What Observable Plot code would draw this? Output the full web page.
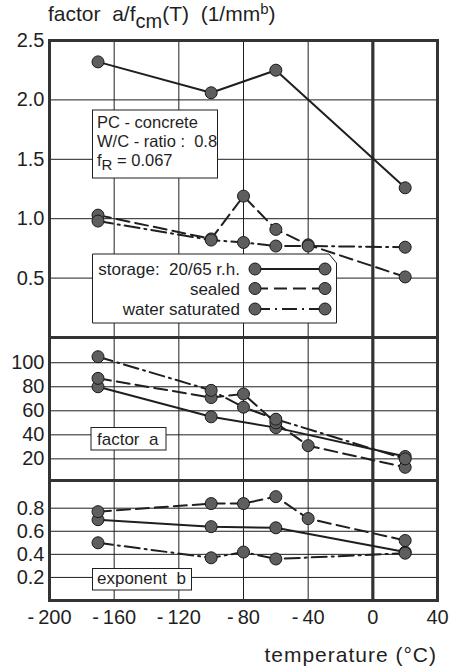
<!DOCTYPE html>
<html><head><meta charset="utf-8">
<script src="https://cdn.jsdelivr.net/npm/d3@7"></script>
<script src="https://cdn.jsdelivr.net/npm/@observablehq/plot@0.6"></script>
<style>
body{margin:0;background:#fff;}
#chart{position:relative;width:451px;height:668px;font-family:"Liberation Sans",Arial,sans-serif;color:#1a1a1a;}
#chart svg{position:absolute;left:0;overflow:visible;}
</style></head><body><div id="chart"></div>
<script>
// ---- data ----
const temperatures = [-170, -100, -80, -60, -40, 20];
const seriesNames = ["storage: 20/65 r.h.", "sealed", "water saturated"];
// factor a / fcm(T)
const ratioStorage = [2.32, 2.06, null, 2.25, null, 1.26];
const ratioSealed  = [1.03, 0.83, 1.19, 0.91, 0.78, 0.51];
const ratioWater   = [0.98, 0.82, 0.80, 0.77, 0.77, 0.76];
// factor a
const aStorage = [80, 55, null, 46, null, 22];
const aSealed  = [87, 71, 74, 50, 31, 13];
const aWater   = [105, 77, 63, 53, null, 20];
// exponent b
const bStorage = [0.70, 0.64, null, 0.63, null, 0.42];
const bSealed  = [0.77, 0.84, 0.84, 0.90, 0.71, 0.52];
const bWater   = [0.50, 0.37, 0.42, 0.36, null, 0.41];
// ticks
const xTicks = [-200, -160, -120, -80, -40, 0, 40];
const ratioTicks = [0.5, 1.0, 1.5, 2.0, 2.5];
const aTicks = [20, 40, 60, 80, 100];
const bTicks = [0.2, 0.4, 0.6, 0.8];
const zeroLine = [0];

const dashes = [null, "13,6", "15,5,2,5"];
const INK = "#1f1f1f";
const FONT = '"Liberation Sans", Arial, sans-serif';

function rows(values, name) {
  return temperatures.map((t, i) => ({t, v: values[i], s: name})).filter(d => d.v != null);
}

const chart = document.getElementById("chart");

function panel({series, domain, ticks, fmt, top, height, marginTop, marginBottom, xAxis}) {
  const all = series.flat();
  const marks = [
    Plot.gridX(xTicks.filter(d => d > -200 && d < 40 && d !== 0), {stroke: INK, strokeOpacity: 1, strokeWidth: 1}),
    Plot.gridY(ticks.filter(d => d < domain[1] - 1e-9), {stroke: INK, strokeOpacity: 1, strokeWidth: 1}),
    Plot.ruleX(zeroLine, {stroke: "#333", strokeWidth: 3.2}),
    ...series.map((s, i) => Plot.line(s, {x: "t", y: "v", stroke: INK, strokeWidth: 2, strokeDasharray: dashes[i]})),
    Plot.dot(all, {x: "t", y: "v", r: 6, fill: "#5e5e5e", stroke: "#1a1a1a", strokeWidth: 1}),
    Plot.frame({stroke: "#333", strokeWidth: 3}),
    Plot.axisY(ticks, {tickSize: 0, tickPadding: 5, fontSize: 20, tickFormat: fmt, label: null})
  ];
  if (xAxis) marks.push(Plot.axisX(xTicks, {tickSize: 0, tickPadding: 9, fontSize: 20, label: null,
    tickFormat: d => d < 0 ? "-\u2009" + Math.abs(d) : String(d)}));
  const p = Plot.plot({
    width: 451, height, marginLeft: 49, marginRight: 14, marginTop, marginBottom,
    x: {domain: [-200, 40], axis: null},
    y: {domain, axis: null},
    style: {fontFamily: FONT, fontSize: "20px", color: INK, background: "transparent", overflow: "visible"},
    marks
  });
  p.style.top = top + "px";
  chart.appendChild(p);
  return d3.select(p.tagName.toLowerCase() === "svg" ? p : p.querySelector("svg"));
}

const f1 = d3.format(".1f");
const svg1 = panel({
  series: [rows(ratioStorage, seriesNames[0]), rows(ratioSealed, seriesNames[1]), rows(ratioWater, seriesNames[2])],
  domain: [0, 2.5], ticks: ratioTicks, fmt: f1, top: 0, height: 337, marginTop: 40, marginBottom: 0
});
const svg2 = panel({
  series: [rows(aStorage, seriesNames[0]), rows(aSealed, seriesNames[1]), rows(aWater, seriesNames[2])],
  domain: [2, 121], ticks: aTicks, fmt: d3.format("d"), top: 337, height: 143, marginTop: 0, marginBottom: 0
});
const svg3 = panel({
  series: [rows(bStorage, seriesNames[0]), rows(bSealed, seriesNames[1]), rows(bWater, seriesNames[2])],
  domain: [0, 1.04], ticks: bTicks, fmt: f1, top: 480, height: 188, marginTop: 0, marginBottom: 68, xAxis: true
});

// annotation layer inserted below the data lines
function annot(svg) {
  return svg.insert("g", "g[aria-label='line']").attr("font-family", FONT).attr("fill", INK)
    .attr("text-anchor", "start");
}

// title
const t = svg1.append("text").attr("x", 48).attr("y", 21).attr("font-family", FONT)
  .attr("text-anchor", "start").attr("font-size", 21).attr("fill", INK);
t.append("tspan").text("factor  a/f");
t.append("tspan").attr("dy", 7).attr("font-size", 20).text("cm");
t.append("tspan").attr("dy", -7).text("(T)  (1/mm");
t.append("tspan").attr("dy", -7).attr("font-size", 15).text("b");
t.append("tspan").attr("dy", 7).text(")");

// info box
const g1 = annot(svg1);
g1.append("rect").attr("x", 92.5).attr("y", 110).attr("width", 125).attr("height", 68)
  .attr("fill", "#fff").attr("stroke", INK).attr("stroke-width", 1);
const info = [["PC - concrete", 127.5], ["W/C - ratio :  0.8", 146.5]];
info.forEach(([s, y]) => g1.append("text").attr("x", 97).attr("y", y).attr("font-size", 16.5).text(s));
const fr = g1.append("text").attr("x", 97).attr("y", 166).attr("font-size", 16.5);
fr.append("tspan").text("f");
fr.append("tspan").attr("dy", 4).attr("font-size", 15).text("R");
fr.append("tspan").attr("dy", -4).text(" = 0.067");

// legend
g1.append("path").attr("d", "M92.5,254H329L336.5,263V323H92.5Z")
  .attr("fill", "#fff").attr("stroke", INK).attr("stroke-width", 1);
const legendY = [[269, 275], [288.5, 294.5], [309, 314.5]];
seriesNames.forEach((name, i) => {
  const [yd, yt] = legendY[i];
  g1.append("text").attr("x", 240).attr("y", yt).attr("text-anchor", "end").attr("font-size", 17).text(name.replace(": ", ":  "));
  g1.append("line").attr("x1", 255).attr("x2", 325).attr("y1", yd).attr("y2", yd)
    .attr("stroke", INK).attr("stroke-width", 2).attr("stroke-dasharray", dashes[i]);
  [255, 325].forEach(x => g1.append("circle").attr("cx", x).attr("cy", yd).attr("r", 6)
    .attr("fill", "#5e5e5e").attr("stroke", "#1a1a1a"));
});

// factor a label
const g2 = annot(svg2);
g2.append("rect").attr("x", 91).attr("y", 90.5).attr("width", 75).attr("height", 22.5)
  .attr("fill", "#fff").attr("stroke", INK).attr("stroke-width", 1);
g2.append("text").attr("x", 97).attr("y", 108).attr("font-size", 17).text("factor  a");

// exponent b label
const g3 = annot(svg3);
g3.append("rect").attr("x", 92.5).attr("y", 88.5).attr("width", 99).attr("height", 21.5)
  .attr("fill", "#fff").attr("stroke", INK).attr("stroke-width", 1);
g3.append("text").attr("x", 97).attr("y", 103.5).attr("font-size", 17).text("exponent  b");

// x axis title
svg3.append("text").attr("x", 437).attr("y", 182).attr("text-anchor", "end")
  .attr("font-family", FONT).attr("font-size", 21).attr("letter-spacing", 1).attr("fill", INK)
  .text("temperature (°C)");
</script></body></html>
